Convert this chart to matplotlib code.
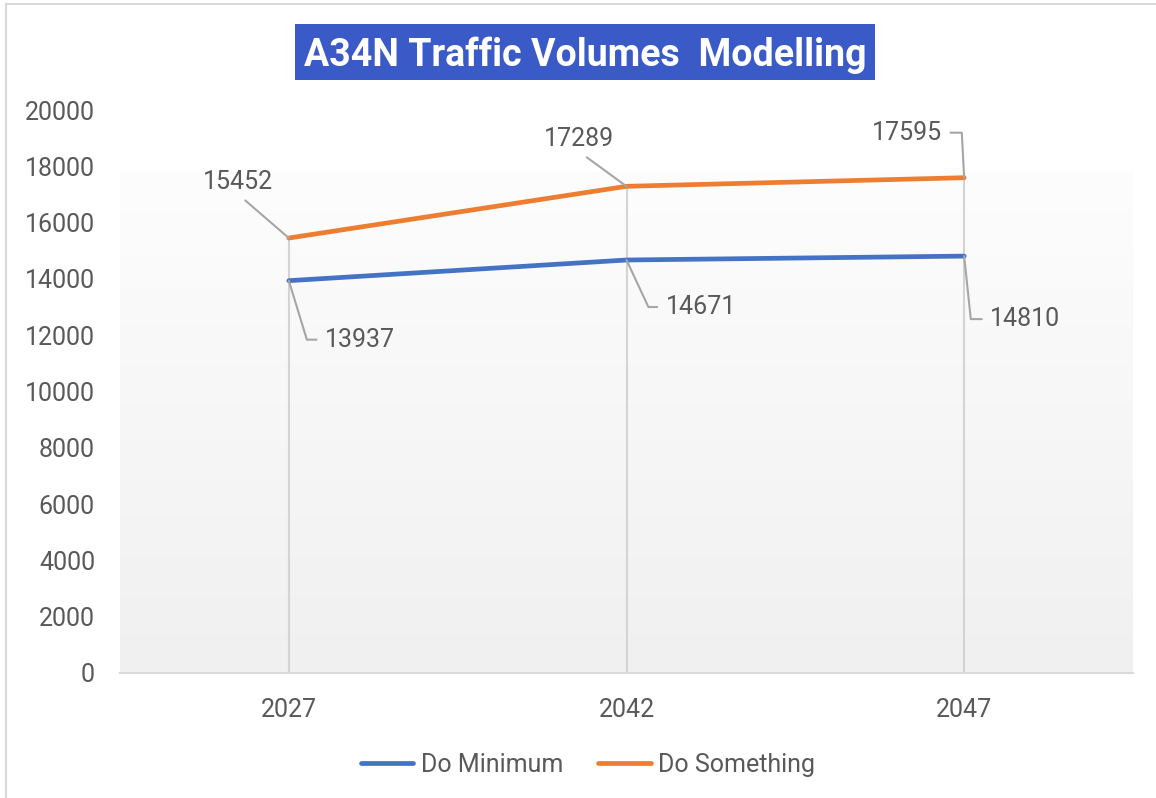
import numpy as np
import matplotlib
matplotlib.use("Agg")
import matplotlib.pyplot as plt
from matplotlib.patches import Rectangle
from matplotlib.lines import Line2D

plt.rcParams['font.family'] = ['Roboto', 'DejaVu Sans']

## DONNEES
years = ['2027', '2042', '2047']
do_minimum = [13937, 14671, 14810]
do_something = [15452, 17289, 17595]
yticks = [0, 2000, 4000, 6000, 8000, 10000, 12000, 14000, 16000, 18000, 20000]

blue = '#4472c4'
orange = '#ed7d31'
grey_txt = '#595959'
lead_col = '#a6a6a6'
fs = 18

fig = plt.figure(figsize=(11.56, 7.98), dpi=100)
ax = fig.add_axes([120/1156, 1-673/798, (1133-120)/1156, (673-110)/798])

x = np.arange(len(years))

# fond degrade
grad = np.linspace(0, 1, 256).reshape(-1, 1)
c_top = np.array([253, 253, 253]) / 255.
c_bot = np.array([240, 240, 240]) / 255.
img = c_top + (c_bot - c_top) * grad[:, :, None]
ax.imshow(img, extent=(-0.5, 2.5, 0, 17800), aspect='auto', zorder=0, origin='upper')

# lignes verticales
top_vals = np.maximum(do_minimum, do_something)
ax.vlines(x, 0, top_vals, color='#d4d4d4', lw=1.5, zorder=1)

ax.plot(x, do_minimum, color=blue, lw=3.4, solid_capstyle='round', zorder=3, label='Do Minimum')
ax.plot(x, do_something, color=orange, lw=3.4, solid_capstyle='round', zorder=3, label='Do Something')

ax.set_xlim(-0.5, 2.5)
ax.set_ylim(0, 20000)
ax.set_xticks(x)
ax.set_xticklabels(years)
ax.set_yticks(yticks)
ax.set_yticklabels([str(v) for v in yticks])
ax.tick_params(axis='both', length=0, labelsize=fs, labelcolor=grey_txt)
ax.tick_params(axis='y', pad=18)
ax.tick_params(axis='x', pad=18)
for s in ['top', 'right', 'left']:
    ax.spines[s].set_visible(False)
ax.spines['bottom'].set_color('#d9d9d9')
ax.spines['bottom'].set_linewidth(1.5)
ax.patch.set_alpha(0)

# etiquettes (decalage en pixels, ha, relpos, style de connexion)
lab_style = [
    # do minimum
    [(36, -59), 'left', (0, 0.5), 'angle,angleA=0,angleB=-73,rad=0'],
    [(39, -47), 'left', (0, 0.5), 'angle,angleA=0,angleB=-65,rad=0'],
    [(26, -63), 'left', (0, 0.5), 'angle,angleA=0,angleB=-84,rad=0'],
    # do something
    [(-51, 56), 'center', (0.5, 0), 'arc3'],
    [(-48, 47), 'center', (0.5, 0), 'arc3'],
    [(-22, 45), 'right', (1, 0.5), 'angle,angleA=0,angleB=93,rad=0'],
]
vals = do_minimum + do_something
xs = list(x) + list(x)
for k in range(len(vals)):
    off, ha, rp, cs = lab_style[k]
    ax.annotate(str(vals[k]), xy=(xs[k], vals[k]), xytext=off, textcoords='offset pixels',
                ha=ha, va='center', fontsize=fs, color=grey_txt, zorder=5,
                arrowprops=dict(arrowstyle='-', color=lead_col, lw=1.5, relpos=rp,
                                connectionstyle=cs, shrinkA=4, shrinkB=0))

# legende
leg = fig.legend(loc='center', bbox_to_anchor=(588/1156, 1-765/798), ncol=2, frameon=False,
                 fontsize=fs, handlelength=2.1, handletextpad=0.3, columnspacing=1.4)
for t in leg.get_texts():
    t.set_color(grey_txt)

# titre
fig.patches.append(Rectangle((295/1156, 1-80/798), 580/1156, 56/798, transform=fig.transFigure,
                             facecolor='#3a5bc7', edgecolor='none', zorder=0))
fig.text(585/1156, 1-55/798, 'A34N Traffic Volumes  Modelling', ha='center', va='center',
         fontsize=27, fontweight='bold', color='white')

# cadre
fig.add_artist(Line2D([6/1156, 6/1156], [0, 1-4/798], transform=fig.transFigure, color='#d9d9d9', lw=1.5))
fig.add_artist(Line2D([6/1156, 1], [1-4/798, 1-4/798], transform=fig.transFigure, color='#d9d9d9', lw=1.5))

fig.savefig('out.png', dpi=100, facecolor='white')
